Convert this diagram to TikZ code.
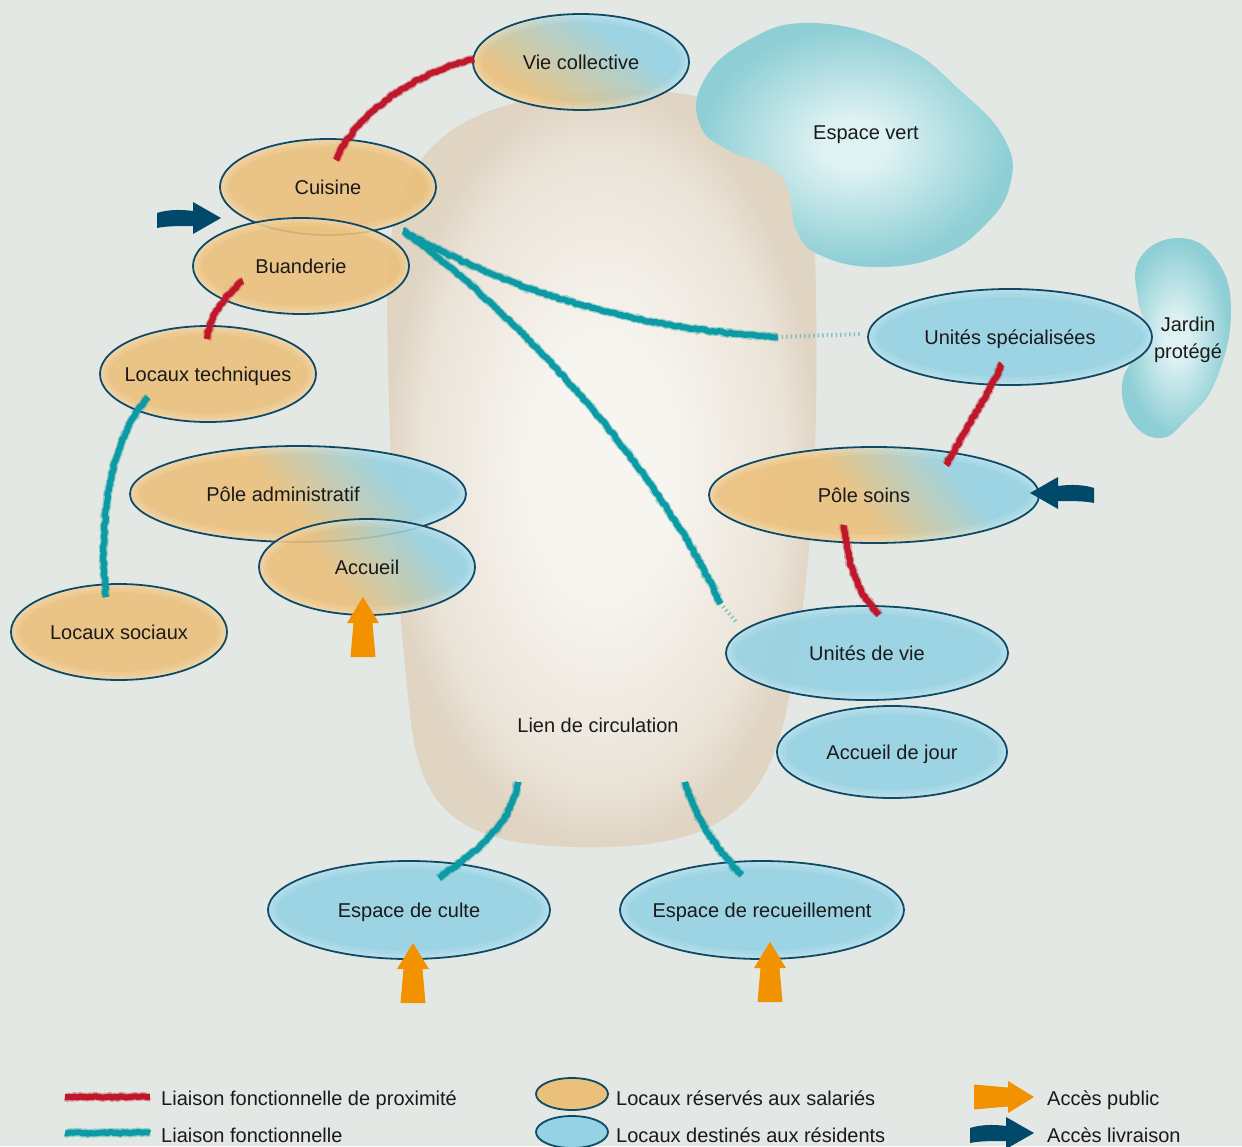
\documentclass[tikz,border=0pt]{standalone}
\usepackage{fontspec}
\setmainfont{Liberation Sans}
\usetikzlibrary{shapes.geometric,decorations.pathmorphing,calc}
\definecolor{bgC}{HTML}{E3E8E4}
\definecolor{orF}{HTML}{EBC07A}
\definecolor{blF}{HTML}{94D2E4}
\definecolor{lineC}{HTML}{0E4A66}
\definecolor{redC}{HTML}{C0182B}
\definecolor{tealC}{HTML}{0C9AA4}
\definecolor{pubC}{HTML}{F39200}
\definecolor{livC}{HTML}{00496A}
\definecolor{lienE}{HTML}{E0D4C3}
\definecolor{lienI}{HTML}{F7F5F0}
\definecolor{vertE}{HTML}{8ECFD5}
\definecolor{vertI}{HTML}{DFF2F3}
\definecolor{txt}{HTML}{1A1A1A}
\pgfdeclarehorizontalshading{mixsh}{100bp}{color(0bp)=(orF); color(46bp)=(orF); color(54bp)=(blF); color(100bp)=(blF)}
\pgfdeclareradialshading{lienSh}{\pgfpoint{0bp}{0bp}}{color(0bp)=(lienI); color(8bp)=(lienI); color(21bp)=(lienE!55!lienI); color(25bp)=(lienE); color(50bp)=(lienE)}
\pgfdeclareradialshading{vertSh}{\pgfpoint{0bp}{0bp}}{color(0bp)=(vertI); color(5bp)=(vertI); color(24bp)=(vertE); color(50bp)=(vertE)}
\tikzset{
  zone/.style={ellipse, draw=lineC, line width=1.8pt, inner sep=0pt, text=txt,
    font=\fontsize{20}{24}\selectfont, text height=14pt, text depth=0pt},
  lbl/.style={text=txt, font=\fontsize{20}{27}\selectfont, inner sep=0pt, align=center},
  legtxt/.style={text=txt, font=\fontsize{20}{24}\selectfont, inner sep=0pt, anchor=base west},
  crayon/.style={draw=#1, line width=6pt, line join=round, decorate,
    decoration={random steps, segment length=2.5pt, amplitude=0.9pt},
    preaction={draw=#1, line width=8.5pt, line join=round, opacity=.35, decorate,
      decoration={random steps, segment length=2pt, amplitude=1.2pt}}},
  redlink/.style={crayon=redC},
  teallink/.style={crayon=tealC},
  fadelink/.style={line width=4pt, dash pattern=on 1.5pt off 3pt, opacity=.45},
  pics/parrow/.style={code={\fill[pubC] (0,0) -- (-26,-16) -- (-26,-9.5) -- (-60,-12.5) -- (-60,12.5) -- (-26,9.5) -- (-26,16) -- cycle;}},
  pics/darrow/.style={code={\fill[livC] (0,0) -- (-28,-16) -- (-28,-7) .. controls (-42,-9) and (-55,-8) .. (-64,-5) -- (-64,10) .. controls (-55,8) and (-42,8) .. (-28,8) -- (-28,16) -- cycle;}}
}
\newcommand\zrim[4]{%
  \draw[white, opacity=.10, line width=16pt] (#1,#2) ellipse [x radius=#3, y radius=#4];
  \draw[white, opacity=.12, line width=9pt] (#1,#2) ellipse [x radius=#3, y radius=#4];
  \draw[white, opacity=.14, line width=4pt] (#1,#2) ellipse [x radius=#3, y radius=#4];}
\newcommand\zoneA[7]{%
  \begin{scope}
    \clip (#2,#3) ellipse [x radius=#4, y radius=#5];
    \fill[#6, fill opacity=.88] (#2-#4,#3-#5) rectangle (#2+#4,#3+#5);
    \zrim{#2}{#3}{#4}{#5}
  \end{scope}
  \node[zone, minimum width=2*#4, minimum height=2*#5] (#1) at (#2,#3) {\makebox[0pt]{#7}};}
\newcommand\zoneB[8]{%
  \begin{scope}
    \clip (#2,#3) ellipse [x radius=#4, y radius=#5];
    \begin{scope}[transform canvas={shift={(#2,#3)}, rotate=#6}]
      \shade[shading=mixsh, fill opacity=.88] (#7-300,-300) rectangle (#7+300,300);
    \end{scope}
    \zrim{#2}{#3}{#4}{#5}
  \end{scope}
  \node[zone, minimum width=2*#4, minimum height=2*#5] (#1) at (#2,#3) {\makebox[0pt]{#8}};}
\begin{document}
\begin{tikzpicture}[x=1pt, y=-1pt]
\pgfmathsetseed{7}
\useasboundingbox (0,0) rectangle (1242,1146);
\fill[bgC] (0,0) rectangle (1242,1146);
% circulation blob
\shade[shading=lienSh] (387,300) .. controls (385,150) and (450,100) .. (600,91)
  .. controls (720,86) and (812,110) .. (815,250)
  .. controls (820,450) and (812,560) .. (792,680)
  .. controls (775,790) and (740,845) .. (603,847)
  .. controls (470,849) and (425,820) .. (412,730)
  .. controls (398,620) and (388,450) .. (387,300) -- cycle;
% espace vert
\shade[shading=vertSh] plot[smooth cycle, tension=0.75] coordinates {
  (811,23) (900,45) (962,92) (1005,140) (1010,185) (985,225) (940,256) (877,267)
  (822,256) (797,232) (788,190) (770,167) (728,150) (700,125) (703,82) (745,42)};
% jardin protege
\shade[shading=vertSh] plot[smooth cycle, tension=0.75] coordinates {
  (1178,238) (1215,258) (1231,310) (1216,380) (1186,420) (1160,438) (1132,422)
  (1122,385) (1136,356) (1150,340) (1138,300) (1140,258)};
\node[lbl] (lien) at (598,725) {Lien de circulation};
\node[lbl] (vert) at (866,135) {Espace vert};
\node[lbl] (jardin) at (1188,340) {Jardin\\protégé};
% zones
\zoneB{vie}{581}{62}{108}{48}{55}{-8}{Vie collective}
\zoneA{cuisine}{328}{187}{108}{48}{orF}{Cuisine}
\zoneA{buanderie}{301}{266}{108}{48}{orF}{Buanderie}
\zoneA{loctech}{208}{374}{108}{48}{orF}{Locaux techniques}
\zoneB{poleadmin}{298}{494}{168}{48}{40}{35}{Pôle administratif\kern30pt}
\zoneB{accueil}{367}{567}{108}{48}{38}{15}{Accueil}
\zoneA{locsoc}{119}{632}{108}{48}{orF}{Locaux sociaux}
\zoneA{unitesspe}{1010}{337}{142}{48}{blF}{Unités spécialisées}
\zoneB{polesoins}{874}{495}{165}{48}{38}{30}{Pôle soins\kern20pt}
\zoneA{unitesvie}{867}{653}{141}{47}{blF}{Unités de vie}
\zoneA{accjour}{892}{752}{115}{46}{blF}{Accueil de jour}
\zoneA{culte}{409}{910}{141}{49}{blF}{Espace de culte}
\zoneA{recueil}{762}{910}{142}{49}{blF}{Espace de recueillement}
% red links
\draw[redlink] ($(vie.west)+(2,-3)$) .. controls (430,68) and (360,105) .. ($(cuisine.center)+(8,-27)$);
\draw[redlink] ($(buanderie.center)+(-58,15)$) .. controls (225,295) and (210,315) .. ($(loctech.center)+(-1,-35)$);
\draw[redlink] ($(unitesspe.center)+(-8,27)$) .. controls (985,400) and (965,430) .. ($(polesoins.center)+(72,-30)$);
\draw[redlink] ($(polesoins.center)+(-30,30)$) .. controls (848,570) and (860,595) .. ($(unitesvie.center)+(12,-38)$);
% teal links
\draw[teallink] ($(loctech.center)+(-60,23)$) .. controls (110,440) and (98,520) .. ($(locsoc.center)+(-13,-35)$);
\coordinate (junc) at ($(buanderie.center)+(102,-35)$);
\draw[teallink] (junc) .. controls (500,285) and (620,328) .. ($(unitesspe.west)+(-90,0)$);
\draw[tealC, fadelink] ($(unitesspe.west)+(-90,0)$) -- ($(unitesspe.west)+(-5,-3)$);
\draw[teallink] (junc) .. controls (500,300) and (650,450) .. ($(unitesvie.west)+(-5,-50)$);
\draw[tealC, fadelink] ($(unitesvie.west)+(-5,-50)$) -- ($(unitesvie.west)+(12,-30)$);
\draw[teallink] ($(lien)+(-80,57)$) .. controls (510,830) and (470,855) .. ($(culte.center)+(30,-32)$);
\draw[teallink] ($(lien)+(87,57)$) .. controls (695,820) and (718,850) .. ($(recueil.center)+(-20,-35)$);
% access arrows
\pic[rotate=90] at (363,597) {parrow};
\pic[rotate=90] at (413,943) {parrow};
\pic[rotate=90] at (770,942) {parrow};
\pic at (221,218) {darrow};
\pic[xscale=-1] at (1030,493) {darrow};
% legend
\coordinate (l1a) at (65,1097); \coordinate (l1b) at (150,1097);
\coordinate (l2a) at (65,1133); \coordinate (l2b) at (150,1133);
\draw[redlink] (l1a) -- (l1b);
\draw[teallink] (l2a) -- (l2b);
\node[legtxt] (lg1) at (161,1105) {Liaison fonctionnelle de proximité};
\node[legtxt] (lg2) at (161,1142) {Liaison fonctionnelle};
\fill[orF, draw=lineC, line width=1.8pt] (572,1094) ellipse [x radius=36, y radius=16];
\fill[blF, draw=lineC, line width=1.8pt] (572,1132) ellipse [x radius=36, y radius=16];
\node[legtxt] (lg3) at (616,1105) {Locaux réservés aux salariés};
\node[legtxt] (lg4) at (616,1142) {Locaux destinés aux résidents};
\pic at (1034,1097) {parrow};
\pic at (1034,1133) {darrow};
\node[legtxt] (lg5) at (1047,1105) {Accès public};
\node[legtxt] (lg6) at (1047,1142) {Accès livraison};
\end{tikzpicture}
\end{document}
